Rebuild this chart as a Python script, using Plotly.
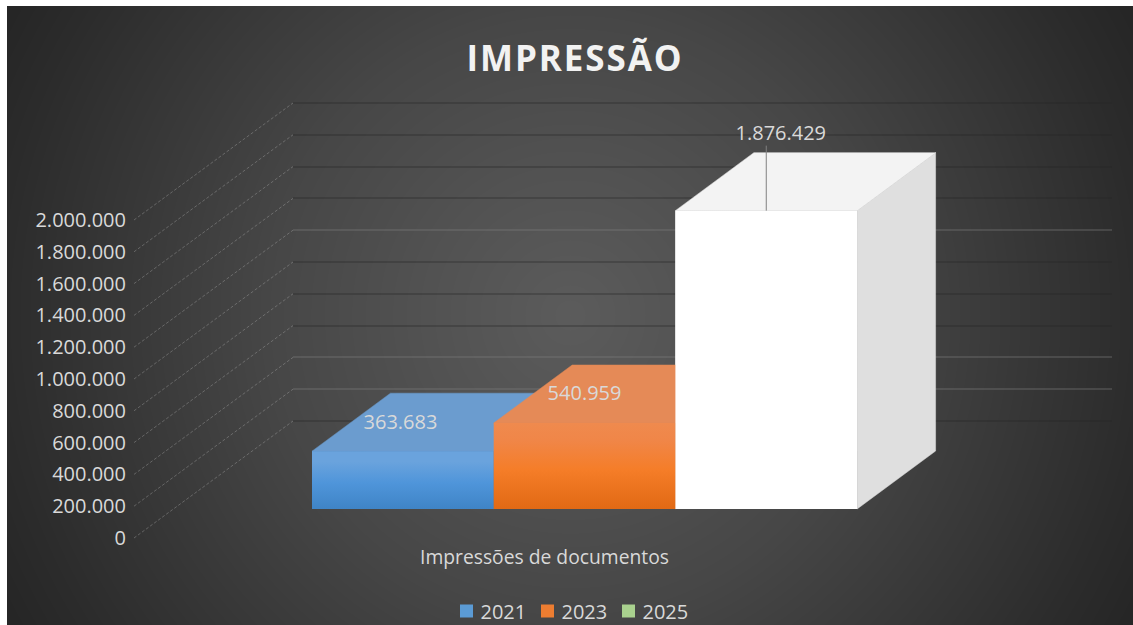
import base64, struct, zlib
import numpy as np
import plotly.graph_objects as go

# ---- data ----
title = "IMPRESSÃO"
category = "Impressões de documentos"
years = ["2021", "2023", "2025"]
values = [363683, 540959, 1876429]
y_ticks = [0, 200000, 400000, 600000, 800000, 1000000, 1200000, 1400000, 1600000, 1800000, 2000000]
light_grid = [200000, 400000, 1200000]
dark_grid = [0, 600000, 800000, 1000000, 1400000, 1600000, 1800000, 2000000]

front_colors = ["#4a8fd4", "#f47d2a", "#ffffff"]
legend_colors = ["#5b9bd5", "#ed7d31", "#a9d18e"]
# gradient stops run from the bottom of the face to its top
front_grad = [
    [[0, "#3f84c6"], [0.45, "#4f95da"], [0.82, "#6aa3dd"], [1, "#6aa3dd"]],
    [[0, "#e16914"], [0.45, "#f57d28"], [0.8, "#f08648"], [1, "#ef8a4e"]],
    [[0, "#ffffff"], [1, "#ffffff"]],
]
top_colors = ["#6b9ccf", "#e58a57", "#f3f3f3"]
side_colors = ["#3f77ad", "#c8611c", "#dfdfdf"]

# ---- figure geometry (pixels) ----
W, H = 1133, 625
PX_PER_UNIT = 31.8 / 200000
ZERO_FRONT = 538          # pixel row of value 0 on the tick labels
ZERO_BACK = 421           # pixel row of value 0 on the back wall
BAR_LEFT, BAR_W = 312, 181.7
DEPTH_X, DEPTH_Y = 78.5 / BAR_W, 58 / PX_PER_UNIT
LIFT = 29 / PX_PER_UNIT   # bars stand in front of the floor's front edge


def px_x(p):
    return -0.5 + (p - BAR_LEFT) / BAR_W


xr = [px_x(0), px_x(W)]
yr = [-(H - ZERO_FRONT) / PX_PER_UNIT, ZERO_FRONT / PX_PER_UNIT]
yr_back = [-(H - ZERO_BACK) / PX_PER_UNIT, ZERO_BACK / PX_PER_UNIT]

# ---- radial backdrop rendered as a PNG ----
yy, xx = np.mgrid[6:H, 7:W]
d = np.hypot(xx - 570.0, yy - 315.0)
g = np.interp(d, [0, 150, 300, 450, 570, 640], [0x5c, 0x52, 0x47, 0x38, 0x2c, 0x26]).astype(np.uint8)


def png(arr):
    h, w = arr.shape
    raw = b"".join(b"\x00" + arr[i].tobytes() for i in range(h))

    def chunk(t, b):
        return struct.pack(">I", len(b)) + t + b + struct.pack(">I", zlib.crc32(t + b) & 0xffffffff)

    return (b"\x89PNG\r\n\x1a\n" + chunk(b"IHDR", struct.pack(">IIBBBBB", w, h, 8, 0, 0, 0, 0))
            + chunk(b"IDAT", zlib.compress(raw, 9)) + chunk(b"IEND", b""))


bg_uri = "data:image/png;base64," + base64.b64encode(png(g)).decode()

fig = go.Figure()
FONT = "Open Sans"
TXT = "#d9d9d9"

# back-wall anchors so that both grid axes are realised
fig.add_trace(go.Scatter(x=[None], y=[None], xaxis="x", yaxis="y", showlegend=False, hoverinfo="skip"))
fig.add_trace(go.Scatter(x=[None], y=[None], xaxis="x", yaxis="y2", showlegend=False, hoverinfo="skip"))

# diagonal side-wall lines
dx, dy = [], []
for t in y_ticks:
    dx += [px_x(134), px_x(293), None]
    dy += [t, t + (ZERO_FRONT - ZERO_BACK) / PX_PER_UNIT, None]
fig.add_trace(go.Scatter(x=dx, y=dy, mode="lines", xaxis="x2", yaxis="y3", showlegend=False, hoverinfo="skip",
                         line=dict(color="rgba(165,165,165,0.42)", width=1, dash="3px,2px")))

# front faces as real bars
fig.add_trace(go.Bar(x=[0, 1, 2], y=values, base=[LIFT] * 3, width=1, xaxis="x2", yaxis="y3",
                     marker=dict(color=front_colors, line=dict(width=0)), showlegend=False,
                     customdata=years, hovertemplate="%{customdata}: %{y:,d}<extra></extra>"))

# 3-D faces, painted back to front
for i, v in enumerate(values):
    l, r = i - 0.5, i + 0.5
    b, t = LIFT, LIFT + v
    fig.add_trace(go.Scatter(x=[r, r + DEPTH_X, r + DEPTH_X, r, r], y=[b, b + DEPTH_Y, t + DEPTH_Y, t, b],
                             fill="toself", fillcolor=side_colors[i], mode="lines",
                             line=dict(width=0.5, color=side_colors[i]),
                             xaxis="x2", yaxis="y3", showlegend=False, hoverinfo="skip"))
    fig.add_trace(go.Scatter(x=[l, l + DEPTH_X, r + DEPTH_X, r, l], y=[t, t + DEPTH_Y, t + DEPTH_Y, t, t],
                             fill="toself", fillcolor=top_colors[i], mode="lines",
                             line=dict(width=0.5, color=top_colors[i]),
                             xaxis="x2", yaxis="y3", showlegend=False, hoverinfo="skip"))
    fig.add_trace(go.Scatter(x=[l, r, r, l, l], y=[b, b, t, t, b],
                             fill="toself", mode="lines", line=dict(width=0),
                             fillgradient=dict(type="vertical", colorscale=front_grad[i]),
                             xaxis="x2", yaxis="y3", showlegend=False, hoverinfo="skip"))

# leader line of the tallest column
fig.add_trace(go.Scatter(x=[2, 2], y=[LIFT + values[2], LIFT + values[2] + 65 / PX_PER_UNIT], mode="lines",
                         line=dict(color="#808080", width=1), xaxis="x2", yaxis="y3",
                         showlegend=False, hoverinfo="skip"))

# data labels
label_dx = [-0.013, 0.0, 0.08]
label_dy = [27.5 / PX_PER_UNIT, 27.5 / PX_PER_UNIT, 75.5 / PX_PER_UNIT]
fig.add_trace(go.Scatter(
    x=[i + label_dx[i] for i in range(3)],
    y=[LIFT + values[i] + label_dy[i] for i in range(3)],
    text=[f"{v:,d}".replace(",", ".") for v in values],
    mode="text", textposition="middle center",
    textfont=dict(family=FONT, size=20, color=TXT),
    xaxis="x2", yaxis="y3", showlegend=False, hoverinfo="skip"))

# legend entries
for name, c in zip(years, legend_colors):
    fig.add_trace(go.Scatter(x=[None], y=[None], mode="markers", name=name, xaxis="x2", yaxis="y3",
                             marker=dict(symbol="square", size=13, color=c, line=dict(width=0))))

fig.update_layout(
    width=W, height=H, autosize=False,
    margin=dict(l=0, r=0, t=0, b=0, autoexpand=False),
    paper_bgcolor="#ffffff", plot_bgcolor="rgba(0,0,0,0)",
    separators=",.",
    font=dict(family=FONT, color=TXT, size=20),
    hovermode="closest",
    barmode="overlay",
    images=[dict(source=bg_uri, xref="paper", yref="paper", x=7 / W, y=1 - 6 / H,
                 sizex=(W - 7) / W, sizey=(H - 6) / H, xanchor="left", yanchor="top",
                 sizing="stretch", layer="below")],
    title=dict(text=f"<b>{title}</b>", x=575 / W, xanchor="center", y=1 - 58.5 / H, yanchor="middle",
               font=dict(family=FONT, size=35, color="#f2f2f2")),
    xaxis=dict(domain=[293 / W, 1112 / W], range=[px_x(293), px_x(1112)], visible=False, anchor="y",
               showgrid=False, zeroline=False, fixedrange=True),
    yaxis=dict(domain=[0, 1], range=yr_back, anchor="x", tickvals=dark_grid, showticklabels=False,
               ticks="", showgrid=True, gridcolor="rgba(38,38,38,0.3)", gridwidth=1.5, zeroline=False,
               showline=False, fixedrange=True),
    yaxis2=dict(domain=[0, 1], range=yr_back, anchor="x", overlaying="y", tickvals=light_grid,
                showticklabels=False, ticks="", showgrid=True, gridcolor="rgba(125,125,125,0.33)",
                gridwidth=1.5, zeroline=False, showline=False, fixedrange=True),
    xaxis2=dict(domain=[0, 1], range=xr, anchor="y3", visible=False, showgrid=False, zeroline=False,
                fixedrange=True),
    yaxis3=dict(domain=[0, 1], range=yr, anchor="free", position=133 / W, side="left",
                tickvals=y_ticks, tickformat=",d", showgrid=False, zeroline=False, showline=False,
                ticks="outside", ticklen=3, tickcolor="rgba(0,0,0,0)",
                tickfont=dict(family=FONT, size=20, color=TXT), fixedrange=True),
    legend=dict(orientation="h", x=568 / W, xanchor="center", y=1 - 611 / H, yanchor="middle",
                font=dict(family=FONT, size=20, color=TXT), bgcolor="rgba(0,0,0,0)",
                entrywidth=36, entrywidthmode="pixels",
                itemclick=False, itemdoubleclick=False),
    annotations=[dict(text=category, xref="paper", yref="paper", x=544 / W, y=1 - 556.5 / H, xanchor="center",
                      yanchor="middle", showarrow=False, font=dict(family=FONT, size=19.3, color=TXT))],
)

fig.write_html("out.html", config=dict(displayModeBar=False),
               post_script="document.body.style.margin='0';document.body.style.overflow='hidden';"
                           "document.querySelectorAll('.gtitle').forEach(function(t){t.style.letterSpacing='1.9px';});"
                           "document.querySelectorAll('.legend .scrollbox').forEach(function(s){s.removeAttribute('clip-path');});"
                           "document.querySelectorAll('.legend .legendtext').forEach(function(t){"
                           "t.setAttribute('x',parseFloat(t.getAttribute('x'))-6);});")
